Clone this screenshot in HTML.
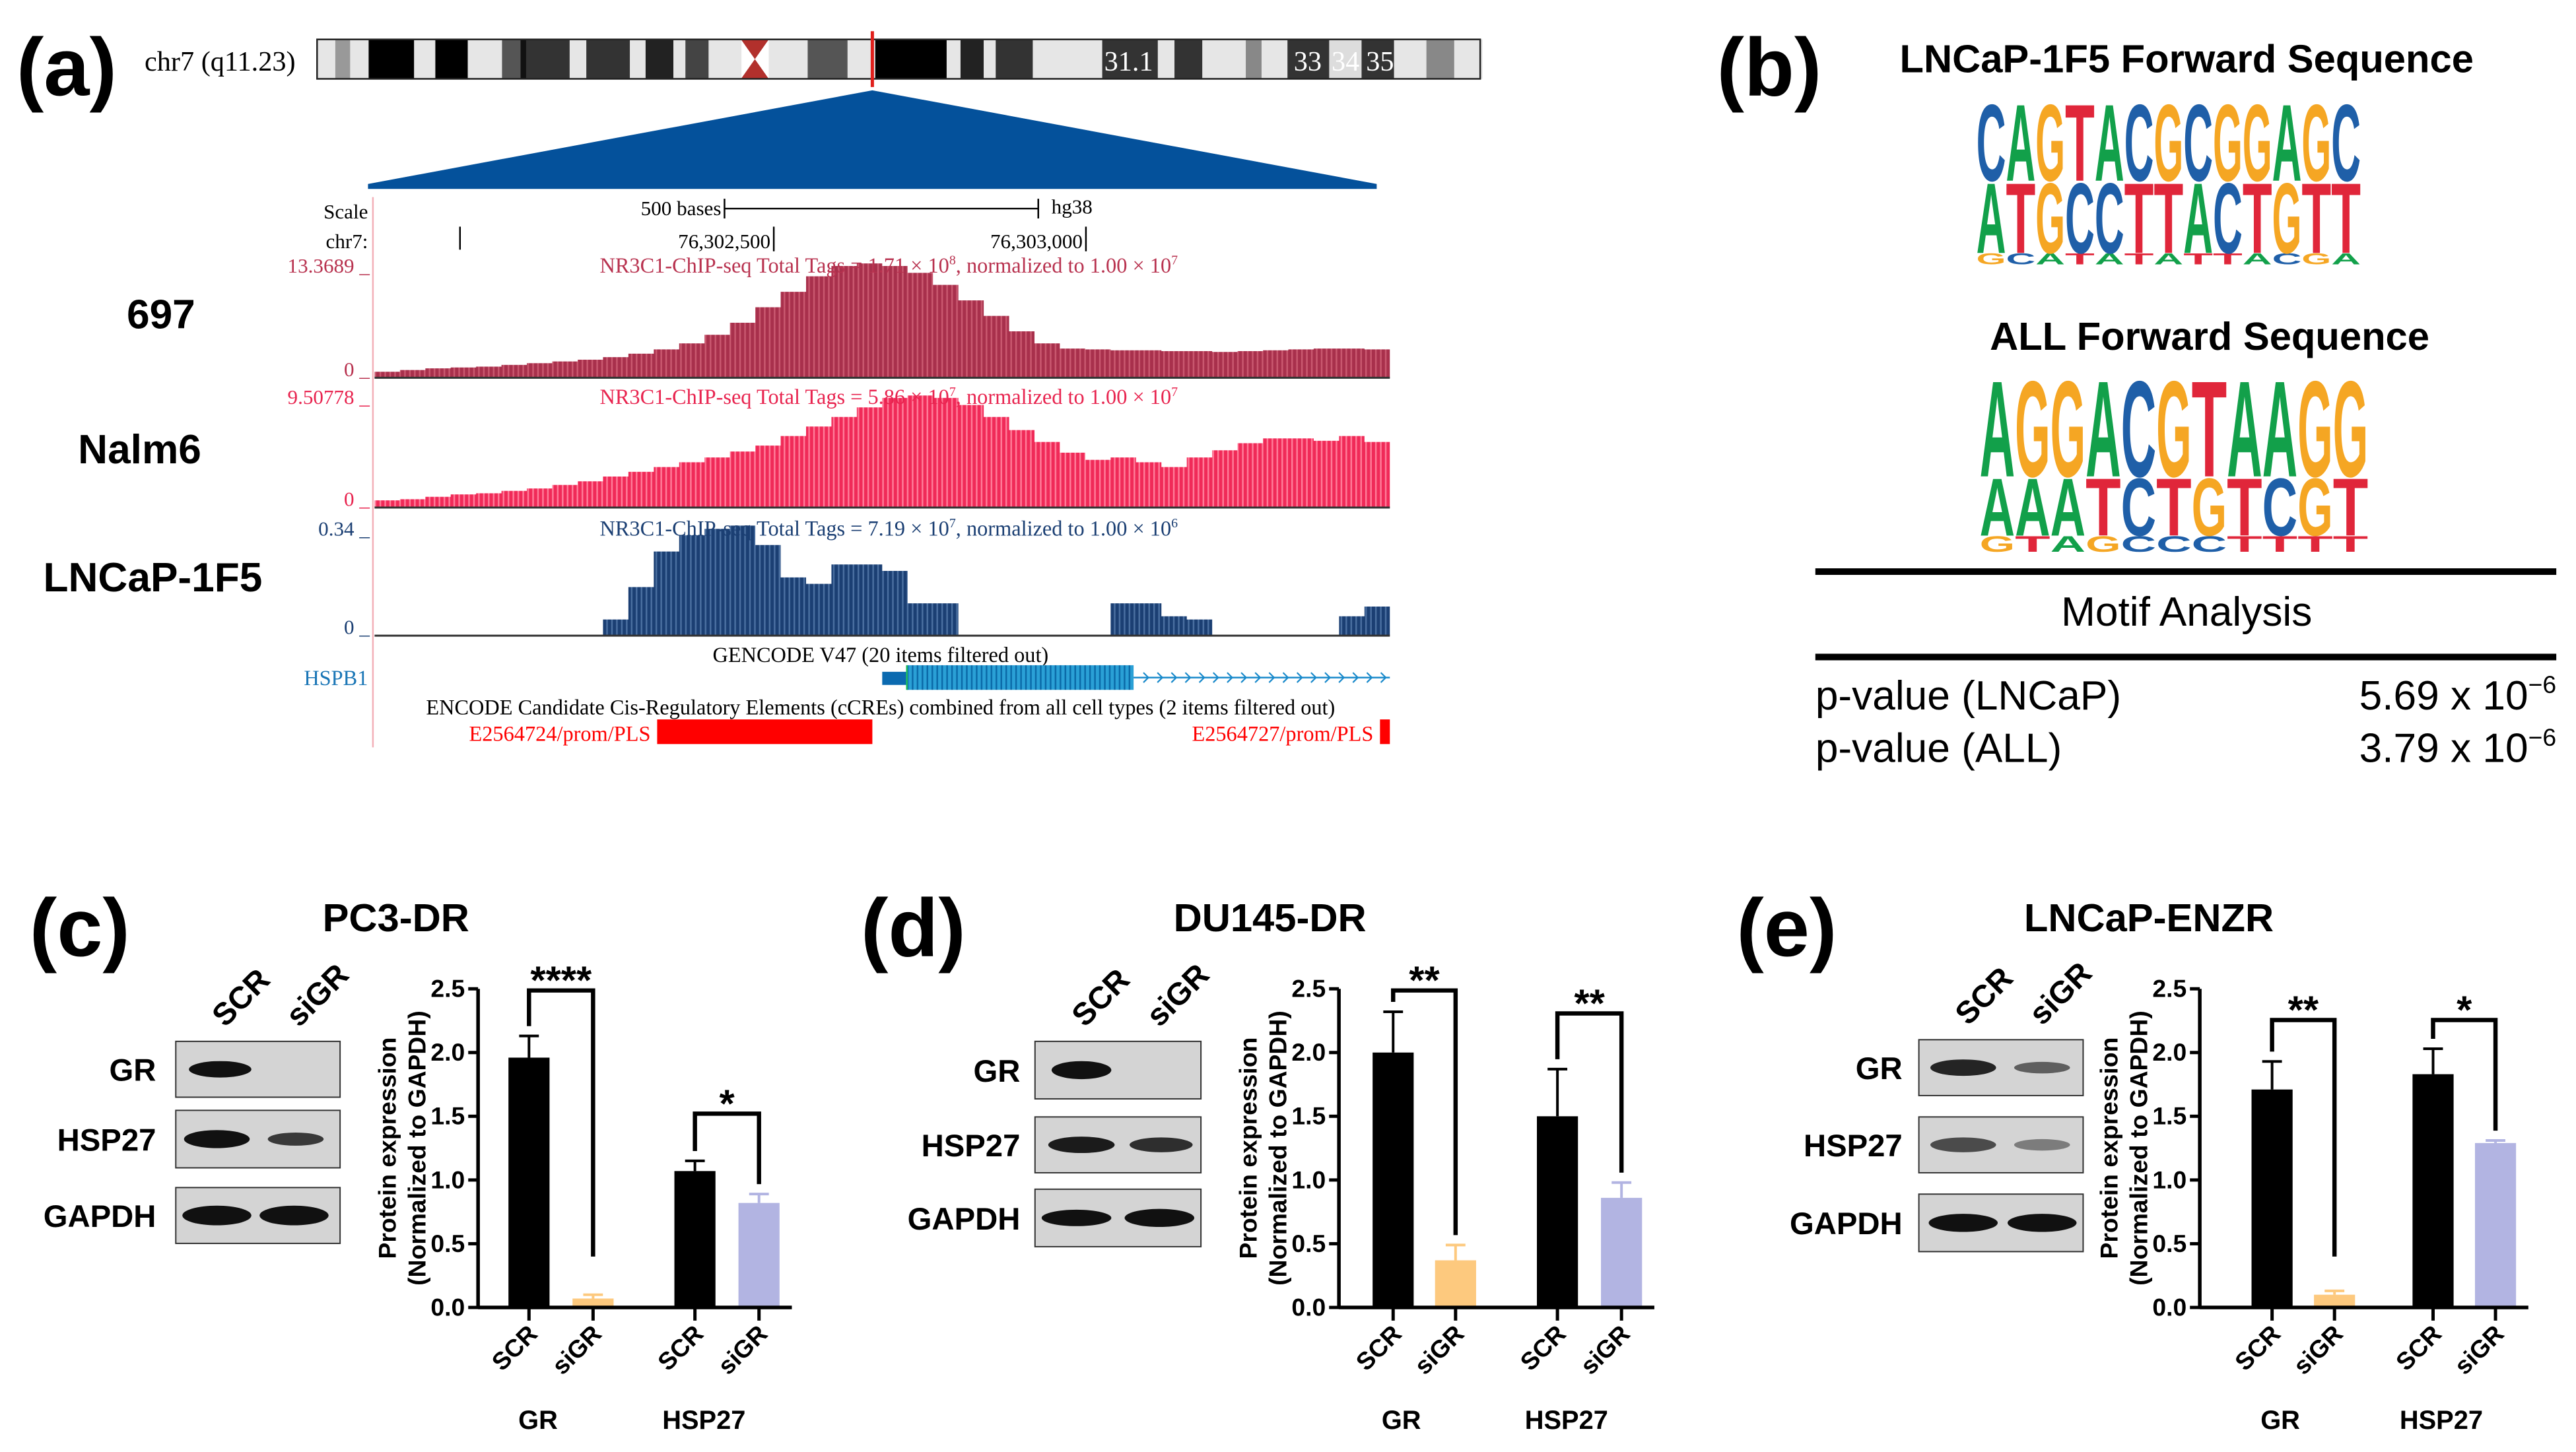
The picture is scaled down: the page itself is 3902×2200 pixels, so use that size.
<!DOCTYPE html>
<html><head><meta charset="utf-8">
<style>
html,body{margin:0;padding:0;background:#fff;}
svg{display:block;}
text{font-family:"Liberation Sans",Arial,sans-serif;}
.serif{font-family:"Liberation Serif","Times New Roman",serif;}
</style></head>
<body>
<svg id="fig" xmlns="http://www.w3.org/2000/svg" width="3902" height="2200" viewBox="0 0 1568 884" preserveAspectRatio="none">
<defs>
<pattern id="str697" width="3" height="10" patternUnits="userSpaceOnUse"><rect width="3" height="10" fill="#a8304c"/><rect width="1" height="10" fill="#c9586f"/></pattern>
<pattern id="strNalm" width="3" height="10" patternUnits="userSpaceOnUse"><rect width="3" height="10" fill="#f02a58"/><rect width="1" height="10" fill="#ff7b98"/></pattern>
<pattern id="strLn" width="3" height="10" patternUnits="userSpaceOnUse"><rect width="3" height="10" fill="#1b3f73"/><rect width="1" height="10" fill="#4a6fa0"/></pattern>
<pattern id="strGene" width="3" height="10" patternUnits="userSpaceOnUse"><rect width="3" height="10" fill="#2aa0d6"/><rect width="1" height="10" fill="#0b6aa8"/></pattern>
</defs>
<g id="root"></g>
</svg>
<script>
// ---------- DATA ----------
const bins697 = [0.7,0.9,1.1,1.2,1.3,1.5,1.7,1.9,2.1,2.4,2.8,3.3,4.0,5.0,6.4,8.2,10.0,11.8,13.0,13.3,13.0,12.2,10.8,9.0,7.2,5.4,4.0,3.4,3.3,3.2,3.2,3.1,3.1,3.0,3.1,3.2,3.3,3.4,3.4,3.3];
const binsNalm6 = [0.6,0.7,0.9,1.1,1.2,1.4,1.6,1.9,2.2,2.6,3.0,3.4,3.8,4.2,4.7,5.2,6.0,6.8,7.6,8.4,9.2,9.4,9.2,8.6,7.6,6.5,5.5,4.6,4.0,4.2,3.8,3.4,4.2,4.8,5.4,5.8,5.8,5.6,6.0,5.5];
const binsLNCaP = [0,0,0,0,0,0,0,0,0,0.05,0.15,0.26,0.31,0.33,0.34,0.28,0.18,0.16,0.22,0.22,0.20,0.10,0.10,0,0,0,0,0,0,0.10,0.10,0.06,0.05,0,0,0,0,0,0.06,0.09];
const trackMax = [13.3689, 9.50778, 0.34];

const barCategories = ["SCR","siGR","SCR","siGR"];
const groupLabels = ["GR","HSP27"];
const yTicks = [0,0.5,1.0,1.5,2.0,2.5];
const valsC = [1.96,0.07,1.07,0.82];
const errC  = [0.17,0.03,0.08,0.07];
const valsD = [2.00,0.37,1.50,0.86];
const errD  = [0.32,0.12,0.37,0.12];
const valsE = [1.71,0.10,1.83,1.29];
const errE  = [0.22,0.03,0.20,0.02];
const sigC = ["****","*"];
const sigD = ["**","**"];
const sigE = ["**","*"];

// ---------- helpers ----------
const NS="http://www.w3.org/2000/svg";
const root=document.getElementById('root');
function mk(tag,attrs,parent,txt){const e=document.createElementNS(NS,tag);for(const k in attrs)e.setAttribute(k,attrs[k]);if(txt!==undefined)e.textContent=txt;(parent||root).appendChild(e);return e;}

// ---------- Panel labels ----------
function label(x,y,t,size,name){const e=mk('text',{x:x,y:y,'font-size':size,'font-weight':'bold'},root,t);

return e;}
label(10,58,"(a)",50,'panel-a-label');
label(1045,58,"(b)",50,'panel-b-label');
label(18,582,"(c)",50,'panel-c-label');
label(524,582,"(d)",50,'panel-d-label');
label(1057,582,"(e)",50,'panel-e-label');

// ---------- Chromosome ideogram ----------
const chrom=mk('g',{});


const bands=[[342,362,'#e6e6e6'],[362,378,'#999'],[378,398,'#e6e6e6'],[398,447,'#000'],[447,470,'#e6e6e6'],[470,505,'#000'],[505,542,'#e6e6e6'],[542,562,'#555'],[562,568,'#111'],[568,615,'#333'],[615,633,'#e6e6e6'],[633,680,'#333'],[680,697,'#e6e6e6'],[697,727,'#222'],[727,740,'#e6e6e6'],[740,765,'#444'],[765,800,'#e6e6e6'],[830,872,'#e6e6e6'],[872,915,'#555'],[915,945,'#e6e6e6'],[945,1022,'#000'],[1022,1037,'#e6e6e6'],[1037,1062,'#222'],[1062,1075,'#e6e6e6'],[1075,1115,'#333'],[1115,1190,'#e6e6e6'],[1190,1250,'#333'],[1250,1268,'#e6e6e6'],[1268,1298,'#333'],[1298,1345,'#e6e6e6'],[1345,1362,'#888'],[1362,1390,'#e6e6e6'],[1390,1435,'#333'],[1435,1470,'#ddd'],[1470,1505,'#333'],[1505,1540,'#e6e6e6'],[1540,1570,'#888'],[1570,1600,'#e6e6e6']];
const zs=0.5638;
bands.forEach(b=>{mk('rect',{x:b[0]*zs,y:24,width:(b[1]-b[0])*zs+0.3,height:24,fill:b[2]},chrom);});
mk('polygon',{points:`${800*zs},24 ${830*zs},24 ${815*zs},36 ${830*zs},48 ${800*zs},48 ${815*zs},36`,fill:'#b2302c'},chrom);
mk('rect',{x:193,y:24,width:708,height:24,fill:'none',stroke:'#222','stroke-width':1},chrom);
mk('line',{x1:531,y1:19,x2:531,y2:53,stroke:'#e0201c','stroke-width':2},chrom);
[["31.1",687],["33",796],["34",819],["35",840]].forEach(t=>mk('text',{x:t[1],y:43,'font-size':17,fill:'#fff','text-anchor':'middle',class:'serif'},chrom,t[0]));
const chrlab=mk('text',{x:88,y:43,'font-size':17,class:'serif'},root,"chr7 (q11.23)");


const tri=mk('polygon',{points:"531,55 838,112 838,115 224,115 224,112",fill:'#04519b'});



// ---------- Genome browser ----------
const gb=mk('g',{class:'serif'});


mk('line',{x1:227,y1:120,x2:227,y2:455,stroke:'#f3b0b8','stroke-width':1},gb);
mk('text',{x:224,y:133,'font-size':12.5,'text-anchor':'end',class:'serif'},gb,"Scale");
mk('text',{x:439,y:131,'font-size':12.5,'text-anchor':'end',class:'serif'},gb,"500 bases");
mk('line',{x1:441,y1:127,x2:632,y2:127,stroke:'#000'},gb);
mk('line',{x1:441,y1:121,x2:441,y2:133,stroke:'#000'},gb);
mk('line',{x1:632,y1:121,x2:632,y2:133,stroke:'#000'},gb);
mk('text',{x:640,y:130,'font-size':12.5,class:'serif'},gb,"hg38");
mk('text',{x:224,y:151,'font-size':12.5,'text-anchor':'end',class:'serif'},gb,"chr7:");
mk('line',{x1:280,y1:138,x2:280,y2:152,stroke:'#000'},gb);
mk('text',{x:469,y:151,'font-size':12.5,'text-anchor':'end',class:'serif'},gb,"76,302,500");
mk('line',{x1:471,y1:138,x2:471,y2:153,stroke:'#000'},gb);
mk('text',{x:659,y:151,'font-size':12.5,'text-anchor':'end',class:'serif'},gb,"76,303,000");
mk('line',{x1:661,y1:138,x2:661,y2:153,stroke:'#000'},gb);

const tracks=[
 {bins:bins697,max:trackMax[0],base:230,top:160,fill:'url(#str697)',col:'#b8324f',maxLab:"13.3689",tt:["1.71","8","7"],name:'track-697',lab:"697",lx:98,ly:200},
 {bins:binsNalm6,max:trackMax[1],base:309,top:240,fill:'url(#strNalm)',col:'#e8244f',maxLab:"9.50778",tt:["5.86","7","7"],name:'track-nalm6',lab:"Nalm6",lx:85,ly:282},
 {bins:binsLNCaP,max:trackMax[2],base:387,top:320,fill:'url(#strLn)',col:'#1b3f73',maxLab:"0.34",tt:["7.19","7","6"],name:'track-lncap-1f5',lab:"LNCaP-1F5",lx:93,ly:360}
];
const gx0=228,gx1=846;
tracks.forEach(t=>{
 const g=mk('g',{},gb);
 
 
 const n=t.bins.length,w=(gx1-gx0)/n;
 const ys=v=>t.base-(v/t.max)*(t.base-t.top);
 let d=`M${gx0},${t.base}`;
 t.bins.forEach((v,i)=>{const y=ys(v);d+=` L${gx0+i*w},${y} L${gx0+(i+1)*w},${y}`;});
 d+=` L${gx1},${t.base} Z`;
 const p=mk('path',{d:d,fill:t.fill},g);
 
 
 mk('line',{x1:gx0,y1:t.base,x2:gx1,y2:t.base,stroke:'#333','stroke-width':1.2},g);
 mk('text',{x:225,y:t.top+6,'font-size':12.5,'text-anchor':'end',fill:t.col,class:'serif'},g,t.maxLab+" _");
 mk('text',{x:225,y:t.base-1,'font-size':12.5,'text-anchor':'end',fill:t.col,class:'serif'},g,"0 _");
 const tt=mk('text',{x:541,y:t.top+6,'font-size':13,'text-anchor':'middle',fill:t.col,class:'serif'},g);
 mk('tspan',{},tt,`NR3C1-ChIP-seq Total Tags = ${t.tt[0]} × 10`);
 mk('tspan',{dy:-5,'font-size':8},tt,t.tt[1]);
 mk('tspan',{dy:5},tt,", normalized to 1.00 × 10");
 mk('tspan',{dy:-5,'font-size':8},tt,t.tt[2]);
 const sl=mk('text',{x:t.lx,y:t.ly,'font-size':25,'font-weight':'bold','text-anchor':'middle'},root,t.lab);
 
 
});
mk('text',{x:536,y:403,'font-size':13,'text-anchor':'middle',class:'serif'},gb,"GENCODE V47 (20 items filtered out)");
const hs=mk('text',{x:224,y:417,'font-size':13,'text-anchor':'end',fill:'#1a76b6',class:'serif'},gb,"HSPB1");


mk('rect',{x:537,y:409,width:15,height:8,fill:'#0b6ab0'},gb);
mk('rect',{x:552,y:405,width:138,height:15,fill:'url(#strGene)'},gb);
mk('line',{x1:552,y1:405,x2:552,y2:420,stroke:'#20c060','stroke-width':1},gb);
mk('line',{x1:690,y1:412.5,x2:846,y2:412.5,stroke:'#1a8acb','stroke-width':1},gb);
for(let x=696;x<844;x+=8.5){mk('path',{d:`M${x},409.5 L${x+3},412.5 L${x},415.5`,fill:'none',stroke:'#1a8acb','stroke-width':0.9},gb);}
mk('text',{x:536,y:435,'font-size':13,'text-anchor':'middle',class:'serif'},gb,"ENCODE Candidate Cis-Regulatory Elements (cCREs) combined from all cell types (2 items filtered out)");
mk('rect',{x:400,y:438,width:131,height:15,fill:'#ff0000'},gb);
mk('rect',{x:840,y:438,width:6,height:15,fill:'#ff0000'},gb);
mk('text',{x:396,y:451,'font-size':13,'text-anchor':'end',fill:'#ff0000',class:'serif'},gb,"E2564724/prom/PLS");
mk('text',{x:836,y:451,'font-size':13,'text-anchor':'end',fill:'#ff0000',class:'serif'},gb,"E2564727/prom/PLS");

// ---------- Sequence logos ----------
const LC={A:'#12a04a',C:'#1f5fa8',G:'#f5a623',T:'#e0263a'};
function logo(name,x0,w,bottom,cols){
 const g=mk('g',{});
 
 
 cols.forEach((c,i)=>{let yb=bottom;c.forEach(s=>{const h=s[1];
  mk('text',{x:x0+i*w,y:yb,'font-size':h/0.72,'font-weight':'bold',fill:LC[s[0]],textLength:w,lengthAdjust:'spacingAndGlyphs'},g,s[0]);yb-=h;});});
}
function cols3(bot,mid,top,hb,hm,ht){return top.split('').map((t,i)=>[[bot[i],hb],[mid[i],hm],[t,ht]]);}
const t1=mk('text',{x:1331,y:44,'font-size':24,'font-weight':'bold','text-anchor':'middle'},root,"LNCaP-1F5 Forward Sequence");


logo('logo-lncap',1203,18,161,cols3("GCATATATTACGA","ATGCCTTACTGTT","CAGTACGCGGAGC",7,44,48));
const t2=mk('text',{x:1345,y:213,'font-size':24,'font-weight':'bold','text-anchor':'middle'},root,"ALL Forward Sequence");


logo('logo-all',1205,21.5,336,cols3("GTAGCCCTTTT","AAATCTGTCGT","AGGACGTAAGG",10,36,60));

// ---------- Motif table ----------
const tb=mk('g',{});


mk('rect',{x:1105,y:346,width:451,height:4,fill:'#000'},tb);
mk('rect',{x:1105,y:398,width:451,height:4,fill:'#000'},tb);
mk('text',{x:1331,y:381,'font-size':25,'text-anchor':'middle'},tb,"Motif Analysis");
[["p-value (LNCaP)","5.69",432],["p-value (ALL)","3.79",464]].forEach(r=>{
 mk('text',{x:1105,y:r[2],'font-size':25},tb,r[0]);
 const v=mk('text',{x:1556,y:r[2],'font-size':25,'text-anchor':'end'},tb);
 mk('tspan',{},v,r[1]+" x 10");mk('tspan',{dy:-10,'font-size':15},v,"−6");
});

// ---------- Western blots ----------
function blot(name,x,w,rows,labX){
 const g=mk('g',{});
 
 
 rows.forEach(r=>{
  mk('rect',{x:x,y:r.y,width:w,height:r.h,fill:'#d4d4d4',stroke:'#333','stroke-width':0.8},g);
  r.bands.forEach(b=>{mk('ellipse',{cx:x+b[0]*w,cy:r.y+r.h/2,rx:b[1]*w/2,ry:b[2],fill:'#111','fill-opacity':b[3]},g);});
  mk('text',{x:labX,y:r.y+r.h/2+7,'font-size':19,'font-weight':'bold','text-anchor':'end'},g,r.lab);
 });
 mk('text',{x:0,y:0,'font-size':19,'font-weight':'bold',transform:`translate(${x+w*0.3},${rows[0].y-8}) rotate(-45)`},g,"SCR");
 mk('text',{x:0,y:0,'font-size':19,'font-weight':'bold',transform:`translate(${x+w*0.75},${rows[0].y-8}) rotate(-45)`},g,"siGR");
}
blot('western-blot-c',107,100,[
 {y:634,h:34,lab:"GR",bands:[[0.27,0.38,5,1]]},
 {y:676,h:35,lab:"HSP27",bands:[[0.25,0.4,5.5,1],[0.73,0.34,4,0.8]]},
 {y:723,h:34,lab:"GAPDH",bands:[[0.25,0.42,6,1],[0.72,0.42,6,1]]}],95);
blot('western-blot-d',630,101,[
 {y:634,h:35,lab:"GR",bands:[[0.28,0.36,5.5,1]]},
 {y:680,h:34,lab:"HSP27",bands:[[0.28,0.4,5,0.95],[0.76,0.38,4.5,0.85]]},
 {y:724,h:35,lab:"GAPDH",bands:[[0.25,0.42,5,1],[0.75,0.42,5.5,1]]}],621);
blot('western-blot-e',1168,100,[
 {y:633,h:34,lab:"GR",bands:[[0.27,0.4,5,0.9],[0.75,0.34,3.5,0.6]]},
 {y:680,h:34,lab:"HSP27",bands:[[0.27,0.4,4.5,0.7],[0.75,0.34,3.5,0.45]]},
 {y:727,h:35,lab:"GAPDH",bands:[[0.27,0.42,5.5,1],[0.75,0.42,5.5,1]]}],1158);

// ---------- Bar charts ----------
const barColors=['#000','#fdc97e','#000','#b2b4e2'];
function barChart(name,title,titleX,axisX,offs,vals,errs,sigs,brY){
 const g=mk('g',{});
 
 
 const y0=796,yTop=602,ymax=2.5;
 const ys=v=>y0-(v/ymax)*(y0-yTop);
 const xs=i=>axisX+offs[i];
 const tl=mk('text',{x:titleX,y:567,'font-size':24,'font-weight':'bold','text-anchor':'middle'},g,title);
 
 
 vals.forEach((v,i)=>{
  const bw=25;
  const r=mk('rect',{x:xs(i)-bw/2,y:ys(v),width:bw,height:y0-ys(v),fill:barColors[i]},g);
  
  
  const ec=barColors[i];
  mk('line',{x1:xs(i),y1:ys(v),x2:xs(i),y2:ys(v+errs[i]),stroke:ec,'stroke-width':1.6},g);
  mk('line',{x1:xs(i)-6,y1:ys(v+errs[i]),x2:xs(i)+6,y2:ys(v+errs[i]),stroke:ec,'stroke-width':1.6},g);
  mk('line',{x1:xs(i),y1:y0,x2:xs(i),y2:y0+8,stroke:'#000','stroke-width':2},g);
  mk('text',{x:0,y:0,'font-size':15,'font-weight':'bold','text-anchor':'end',transform:`translate(${xs(i)+6},${y0+17}) rotate(-45)`},g,barCategories[i]);
 });
 mk('line',{x1:axisX,y1:y0,x2:axisX+offs[3]+20,y2:y0,stroke:'#000','stroke-width':2.2},g);
 mk('line',{x1:axisX,y1:y0+1,x2:axisX,y2:yTop,stroke:'#000','stroke-width':2.2},g);
 yTicks.forEach(t=>{
  mk('line',{x1:axisX-6,y1:ys(t),x2:axisX,y2:ys(t),stroke:'#000','stroke-width':2},g);
  mk('text',{x:axisX-8,y:ys(t)+5,'font-size':15,'font-weight':'bold','text-anchor':'end'},g,t.toFixed(1));
 });
 const yt=mk('text',{x:0,y:0,'font-size':15,'font-weight':'bold','text-anchor':'middle',transform:`translate(${axisX-50},${y0-97}) rotate(-90)`},g);
 mk('tspan',{x:0,dy:0},yt,"Protein expression");
 mk('tspan',{x:0,dy:18},yt,"(Normalized to GAPDH)");
 groupLabels.forEach((gl,k)=>{mk('text',{x:(xs(2*k)+xs(2*k+1))/2-14,y:870,'font-size':16,'font-weight':'bold','text-anchor':'middle'},g,gl);});
 [0,1].forEach(k=>{
  const a=2*k,b=2*k+1,by=brY[k];
  const ya=ys(vals[a]+errs[a])-6, yb=Math.min(ys(vals[b]+errs[b])-6, k===0?765:y0);
  mk('path',{d:`M${xs(a)},${ya} L${xs(a)},${by} L${xs(b)},${by} L${xs(b)},${k===0?Math.max(yb,700):yb}`,fill:'none',stroke:'#000','stroke-width':2.6},g);
  mk('text',{x:(xs(a)+xs(b))/2,y:by+2,'font-size':24,'font-weight':'bold','text-anchor':'middle'},g,sigs[k]);
 });
}
barChart('bar-chart-c',"PC3-DR",241,291,[31,70,132,171],valsC,errC,sigC,[603,678]);
barChart('bar-chart-d',"DU145-DR",773,815,[33,71,133,172],valsD,errD,sigD,[603,617]);
barChart('bar-chart-e',"LNCaP-ENZR",1308,1339,[44,82,142,180],valsE,errE,sigE,[621,621]);
</script>
</body></html>
